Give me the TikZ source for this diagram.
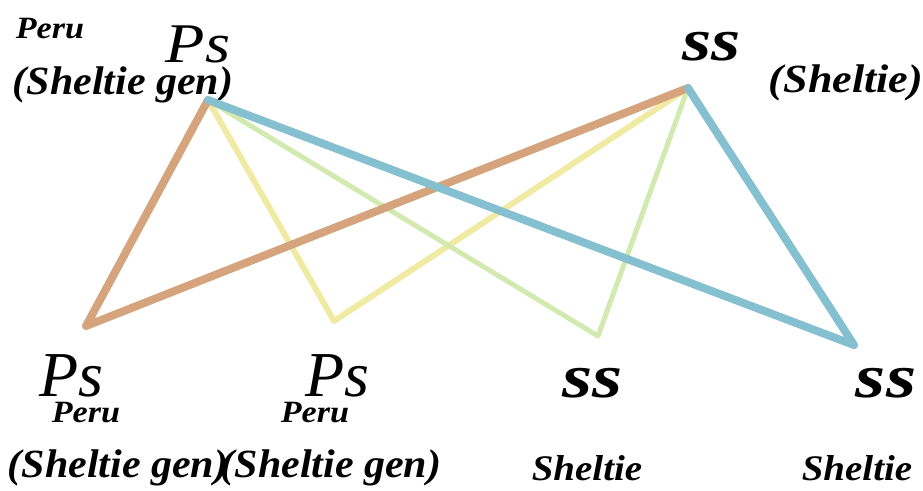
\documentclass[tikz,border=0pt]{standalone}
\usepackage{fontspec}
\setmainfont{Liberation Serif}
\usepackage{tikz}
\usetikzlibrary{positioning}
\definecolor{crossorange}{RGB}{214,164,124}
\definecolor{crossyellow}{RGB}{240,234,162}
\definecolor{crossgreen}{RGB}{210,234,176}
\definecolor{crossblue}{RGB}{132,192,208}

\begin{document}
\begin{tikzpicture}[x=1pt, y=-1pt,
    allele/.style={anchor=base, inner sep=0pt, font=\fontsize{64}{64}\selectfont\itshape},
    recessive/.style={anchor=base, inner sep=0pt, xscale=1.25, font=\fontsize{62}{62}\selectfont\bfseries\itshape},
    breed/.style={anchor=base, inner sep=0pt, xscale=1.05, font=\fontsize{40}{40}\selectfont\bfseries\itshape},
    small/.style={anchor=base, inner sep=0pt, xscale=1.1, font=\fontsize{31}{31}\selectfont\bfseries\itshape},
    cross/.style={line width=#1, line cap=round, line join=round}
]
\useasboundingbox (0,0) rectangle (923,490);

% parents
\node[small] (peruTop) at (50,38) {Peru};
\node[allele, xscale=1.15, font=\fontsize{56}{56}\selectfont\itshape] (psTop) at (198,62) {Ps};
\node[breed] (genTop) at (123,94) {(Sheltie gen)};
\node[recessive, font=\fontsize{60}{60}\selectfont\bfseries\itshape] (ssTop) at (712,60) {ss};
\node[breed, xscale=1.05] (sheltieTop) at (846,92) {(Sheltie)};

% offspring
\node[allele] (psA) at (71,396) {Ps};
\node[small] (peruA) at (86,422) {Peru};
\node[breed] (genA) at (118,477) {(Sheltie gen)};
\node[allele] (psB) at (337,396) {Ps};
\node[small] (peruB) at (315,422) {Peru};
\node[breed] (genB) at (331,477) {(Sheltie gen)};
\node[recessive] (ssC) at (593,397) {ss};
\node[breed, xscale=1.03, font=\fontsize{36}{36}\selectfont\bfseries\itshape] (sheltieC) at (587,480) {Sheltie};
\node[recessive] (ssD) at (886,397) {ss};
\node[breed, xscale=1.03, font=\fontsize{36}{36}\selectfont\bfseries\itshape] (sheltieD) at (857,480) {Sheltie};

% line ends
\coordinate (fromPs) at (208,100);
\coordinate (fromSs) at (688,88);
\coordinate (toA) at (86,326);
\coordinate (toB) at (334,321);
\coordinate (toC) at (598,336);
\coordinate (toD) at (854,345);

\draw[cross=6pt, crossyellow] (fromPs) -- (toB) -- (fromSs);
\draw[cross=5pt, crossgreen] (fromPs) -- (toC) -- (fromSs);
\draw[cross=8pt, crossorange] (fromPs) -- (toA) -- (fromSs);
\draw[cross=8pt, crossblue] (fromPs) -- (toD) -- (fromSs);
\end{tikzpicture}
\end{document}
